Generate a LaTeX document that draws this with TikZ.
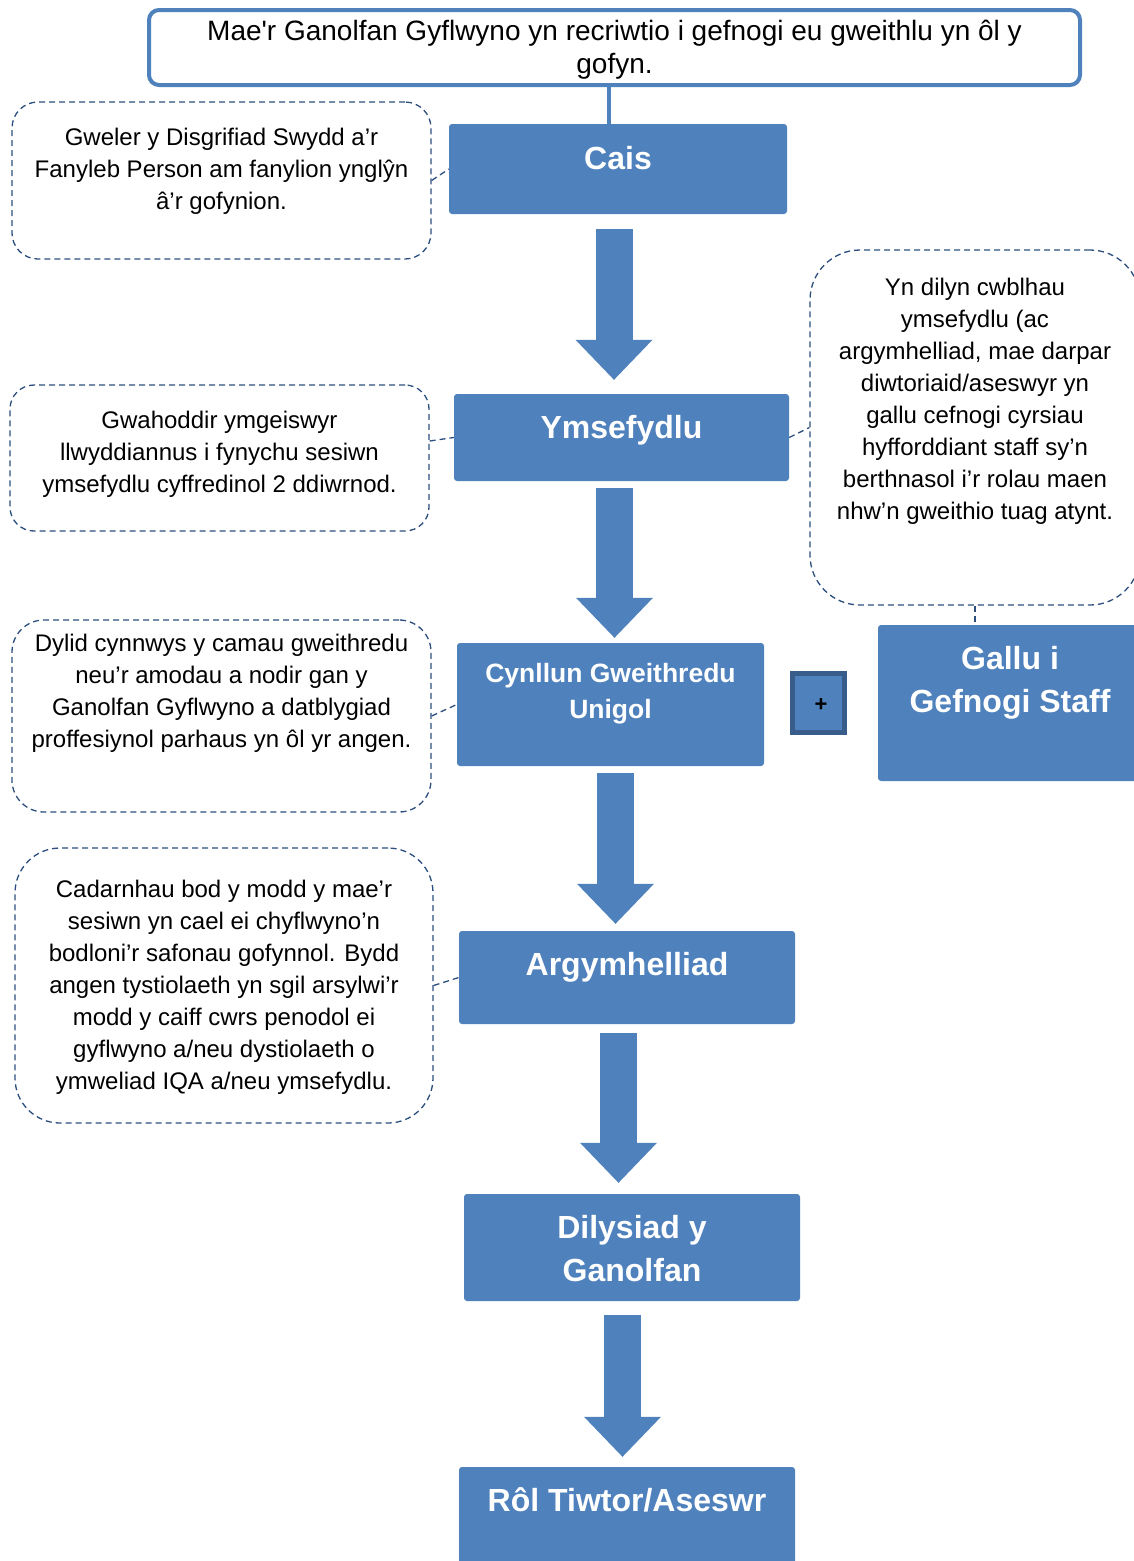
\documentclass[tikz,border=0pt]{standalone}
\usepackage{fontspec}
\setmainfont{Liberation Sans}
\newfontfamily\headfont{Liberation Sans}
\usetikzlibrary{positioning,arrows.meta}

\definecolor{boxblue}{HTML}{4F81BD}
\definecolor{notedash}{HTML}{2B4E7E}
\definecolor{plusedge}{HTML}{385D8A}

\tikzset{
  stepbox/.style={fill=boxblue, rounded corners=3pt, inner sep=0pt},
  steptext/.style={text=white, font=\bfseries\fontsize{32}{43}\selectfont, align=center, inner sep=0pt},
  notebox/.style={draw=notedash, line width=1.3pt, dash pattern=on 6pt off 4pt, inner sep=0pt},
  notetext/.style={font=\fontsize{24}{32}\selectfont, align=center, inner sep=0pt},
  noteline/.style={draw=notedash, line width=1.3pt, dash pattern=on 6pt off 4pt},
  flow/.style={draw=boxblue, line width=37pt, -{Triangle[length=40pt, width=77pt, line width=0pt]}}
}

\begin{document}
\begin{tikzpicture}[x=1pt, y=-1pt]

  \useasboundingbox (0,0) rectangle (1134,1561);
  \clip (0,0) rectangle (1134,1561);

  % heading
  \node[draw=boxblue, line width=4pt, rounded corners=10pt, fill=white, minimum width=931pt, minimum height=75pt] (top) at (614.5,47.5) {};
  \node[font=\headfont\fontsize{28}{33}\selectfont, align=center, inner sep=0pt] (topT) at ([yshift=-2.5pt]top.center)
    {Mae'r Ganolfan Gyflwyno yn recriwtio i gefnogi eu gweithlu yn ôl y\\gofyn.};

  % main steps
  \node[stepbox, minimum width=338pt, minimum height=90pt] (cais) at (618,169) {};
  \node[stepbox, minimum width=335pt, minimum height=87pt] (yms) at (621.5,437.5) {};
  \node[stepbox, minimum width=307pt, minimum height=123pt] (cyn) at (610.5,704.5) {};
  \node[stepbox, minimum width=336pt, minimum height=93pt] (arg) at (627,977.5) {};
  \node[stepbox, minimum width=336pt, minimum height=107pt] (dil) at (632,1247.5) {};
  \node[stepbox, minimum width=336pt, minimum height=120pt] (rol) at (627,1527) {};
  \node[stepbox, minimum width=264pt, minimum height=156pt] (gallu) at (1010,703) {};
  \node[fill=boxblue, draw=plusedge, line width=5pt, minimum width=52pt, minimum height=59pt, inner sep=0pt] (plus) at (818.5,703) {};

  \node[steptext] (caisT) at ([yshift=11pt]cais.center) {Cais};
  \node[steptext] (ymsT) at ([yshift=7pt]yms.center) {Ymsefydlu};
  \node[steptext, font=\bfseries\fontsize{26.5}{36}\selectfont] (cynT) at ([yshift=11pt]cyn.center) {Cynllun Gweithredu\\Unigol};
  \node[steptext] (argT) at ([yshift=10.5pt]arg.center) {Argymhelliad};
  \node[steptext] (dilT) at ([yshift=-1pt]dil.center) {Dilysiad y\\Ganolfan};
  \node[steptext] (rolT) at (627,1500) {Rôl Tiwtor/Aseswr};
  \node[steptext] (galluT) at ([yshift=20pt]gallu.center) {Gallu i\\Gefnogi Staff};
  \node[font=\bfseries\fontsize{22}{22}\selectfont, inner sep=0pt] (plusT) at ([xshift=2.5pt, yshift=-2pt]plus.center) {+};

  % notes
  \node[notebox, rounded corners=26pt, minimum width=419pt, minimum height=157pt] (n1) at (221.5,180.5) {};
  \node[notebox, rounded corners=24pt, minimum width=419pt, minimum height=146pt] (n2) at (219.5,458) {};
  \node[notebox, rounded corners=50pt, minimum width=330pt, minimum height=355pt] (n3) at (975,427.5) {};
  \node[notebox, rounded corners=32pt, minimum width=419pt, minimum height=192pt] (n4) at (221.5,716) {};
  \node[notebox, rounded corners=45pt, minimum width=418pt, minimum height=275pt] (n5) at (224,985.5) {};

  \node[notetext] (n1T) at ([yshift=8.75pt]n1.center) {Gweler y Disgrifiad Swydd a’r\\Fanyleb Person am fanylion ynglŷn\\â’r gofynion.};
  \node[notetext] (n2T) at ([yshift=3.25pt]n2.center) {Gwahoddir ymgeiswyr\\llwyddiannus i fynychu sesiwn\\ymsefydlu cyffredinol 2 ddiwrnod.};
  \node[notetext] (n3T) at ([yshift=26.5pt]n3.center) {Yn dilyn cwblhau\\ymsefydlu (ac\\argymhelliad, mae darpar\\diwtoriaid/aseswyr yn\\gallu cefnogi cyrsiau\\hyfforddiant staff sy’n\\berthnasol i’r rolau maen\\nhw’n gweithio tuag atynt.};
  \node[notetext] (n4T) at ([yshift=23pt]n4.center) {Dylid cynnwys y camau gweithredu\\neu’r amodau a nodir gan y\\Ganolfan Gyflwyno a datblygiad\\proffesiynol parhaus yn ôl yr angen.};
  \node[notetext] (n5T) at ([yshift=-1.5pt]n5.center) {Cadarnhau bod y modd y mae’r\\sesiwn yn cael ei chyflwyno’n\\bodloni’r safonau gofynnol. Bydd\\angen tystiolaeth yn sgil arsylwi’r\\modd y caiff cwrs penodol ei\\gyflwyno a/neu dystiolaeth o\\ymweliad IQA a/neu ymsefydlu.};

  % links
  \draw[boxblue, line width=4pt] ([xshift=-9pt]cais.north) -- ([xshift=-9pt]cais.north |- top.south);
  \draw[noteline] (n1.east) -- (cais.west);
  \draw[noteline] ([yshift=17pt]n2.east) -- (yms.west);
  \draw[noteline] (yms.east) -- (n3.west);
  \draw[noteline] (n4.east) -- (cyn.west);
  \draw[noteline] (n5.east) -- (arg.west);
  \draw[noteline] (n3.south) -- (n3.south |- gallu.north);

  % block arrows
  \foreach \a/\b/\dx/\gs/\ge in {cais/yms/-4/15/14, yms/cyn/-7/7/5, cyn/arg/5/7/7, arg/dil/-8.5/9/11, dil/rol/-9.5/14/10} {
    \draw[flow] ([xshift=\dx pt, yshift=-\gs pt]\a.south) -- ([xshift=\dx pt, yshift=\ge pt]\a.south |- \b.north);
  }

\end{tikzpicture}
\end{document}
